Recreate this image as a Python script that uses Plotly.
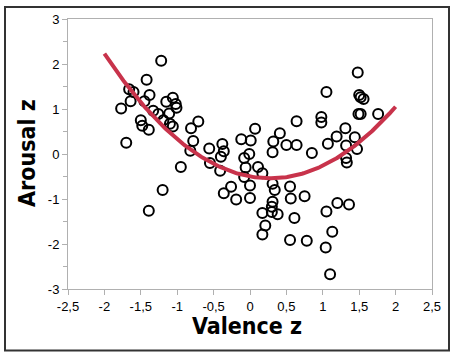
import plotly.graph_objects as go

valence = [-1.77, -1.70, -1.66, -1.64, -1.60, -1.50, -1.48, -1.45, -1.42, -1.39,
           -1.38, -1.39, -1.33, -1.26, -1.22, -1.19, -1.20, -1.15, -1.11, -1.10,
           -1.06, -1.06, -1.02, -1.01, -0.95, -0.82, -0.81, -0.78, -0.71, -0.56,
           -0.55, -0.41, -0.38, -0.40, -0.36, -0.36, -0.26, -0.19, -0.12, -0.08,
           -0.06, -0.01, -0.08, 0.01, 0.00, 0.00, 0.07, 0.11, 0.17, 0.17,
           0.21, 0.17, 0.31, 0.30, 0.30, 0.31, 0.34, 0.38, 0.32, 0.31,
           0.41, 0.50, 0.55, 0.56, 0.55, 0.61, 0.64, 0.64, 0.75, 0.78,
           0.85, 0.98, 0.98, 1.05, 1.05, 1.04, 1.07, 1.10, 1.13, 1.19,
           1.20, 1.31, 1.32, 1.32, 1.33, 1.36, 1.44, 1.47, 1.48, 1.50,
           1.52, 1.56, 1.49, 1.52, 1.76]
arousal = [1.01, 0.25, 1.44, 1.17, 1.38, 0.75, 0.63, 1.17, 1.65, 0.54,
           1.31, -1.26, 0.96, 0.89, 2.07, 0.75, -0.80, 1.16, 0.90, 0.67,
           1.25, 0.61, 1.11, 1.03, -0.29, 0.07, 0.57, 0.29, 0.72, 0.12,
           -0.20, -0.37, 0.22, -0.06, 0.06, -0.87, -0.73, -1.01, 0.33, -0.09,
           -0.30, 0.00, -0.51, 0.30, -0.70, -0.98, 0.56, -0.29, -0.43, -1.31,
           -1.59, -1.79, -1.06, -1.17, -1.29, -0.66, -0.80, -1.34, 0.28, 0.04,
           0.46, 0.20, -0.72, -0.99, -1.91, -1.42, 0.73, 0.20, -0.94, -1.93,
           0.02, 0.82, 0.70, 1.38, -1.28, -2.08, 0.23, -2.67, -1.73, 0.39,
           -1.09, 0.57, 0.19, -0.09, -0.19, -1.12, 0.37, 0.11, 1.81, 1.31,
           1.26, 1.22, 0.89, 0.89, 0.89]

# quadratic fit: arousal = a*v^2 + b*v + c, drawn over v in [-2, 2]
fit_coef = [0.535, -0.295, -0.50]
fit_range = [-2.0, 2.0]

x_tickvals = [-2.5, -2, -1.5, -1, -0.5, 0, 0.5, 1, 1.5, 2, 2.5]
x_ticktext = ["-2,5", "-2", "-1,5", "-1", "-0,5", "0", "0,5", "1", "1,5", "2", "2,5"]
y_tickvals = [-3, -2, -1, 0, 1, 2, 3]
y_ticktext = ["-3", "-2", "-1", "0", "1", "2", "3"]

n = 200
fx = [fit_range[0] + (fit_range[1] - fit_range[0]) * i / (n - 1) for i in range(n)]
fy = [fit_coef[0] * v * v + fit_coef[1] * v + fit_coef[2] for v in fx]

fig = go.Figure()
fig.add_trace(go.Scatter(x=valence, y=arousal, mode="markers",
                         marker=dict(symbol="circle-open", size=10, color="black",
                                     line=dict(width=2, color="black")),
                         showlegend=False, cliponaxis=False))
fig.add_trace(go.Scatter(x=fx, y=fy, mode="lines",
                         line=dict(color="#c8334b", width=4), showlegend=False))

axis_common = dict(showline=True, linecolor="#b0b0b0", linewidth=1, mirror=True,
                   ticks="outside", tickcolor="#b0b0b0", ticklen=5, tickwidth=1,
                   showgrid=False, zeroline=False,
                   tickfont=dict(family="Liberation Sans, Arial, sans-serif", size=13, color="black"))

fig.update_xaxes(range=[-2.5, 2.5], tickvals=x_tickvals, ticktext=x_ticktext, **axis_common)
fig.update_yaxes(range=[-3, 3], tickvals=y_tickvals, ticktext=y_ticktext,
                 minor=dict(ticks="outside", tickcolor="#b0b0b0", ticklen=4, tickwidth=1, dtick=0.5,
                            tick0=0, showgrid=False),
                 **axis_common)

L, R, T, B = 68, 22, 17, 67
W, H = 454, 356
pw, ph = W - L - R, H - T - B

def px_x(p):
    return (p - L) / pw

def px_y(p):
    return (H - B - p) / ph

title_font = dict(family="Liberation Sans Narrow, DejaVu Sans Condensed, sans-serif", size=23, color="black")
fig.add_annotation(text="<b>Valence z</b>", xref="paper", yref="paper",
                   x=px_x(247), y=px_y(326), showarrow=False, font=title_font,
                   xanchor="center", yanchor="middle")
fig.add_annotation(text="<b>Arousal z</b>", xref="paper", yref="paper",
                   x=px_x(27), y=px_y(152), showarrow=False, font=title_font, textangle=-90,
                   xanchor="center", yanchor="middle")

fig.add_shape(type="rect", xref="paper", yref="paper",
              x0=px_x(5), x1=px_x(449), y0=px_y(351), y1=px_y(5),
              line=dict(color="#333333", width=2), fillcolor="rgba(0,0,0,0)", layer="below")

fig.update_layout(width=W, height=H, margin=dict(l=L, r=R, t=T, b=B),
                  paper_bgcolor="white", plot_bgcolor="white")

fig.write_html("out.html", config={"displayModeBar": False},
               post_script="document.body.style.margin='0';document.body.style.padding='0';")
